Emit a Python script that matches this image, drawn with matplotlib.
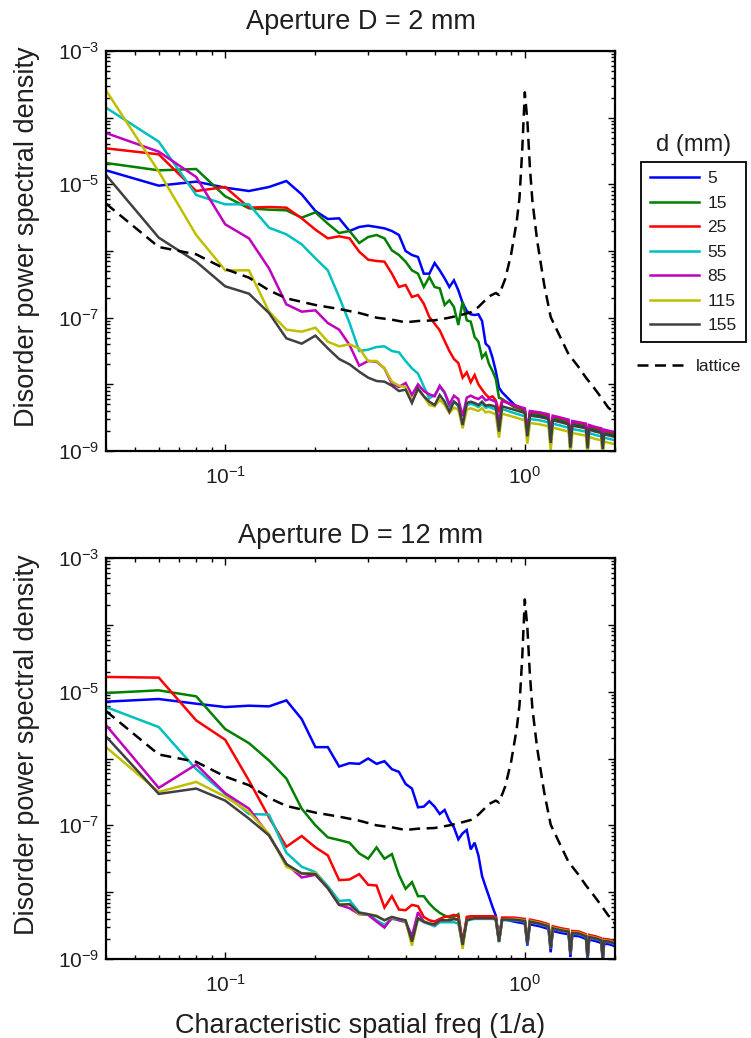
import numpy as np
import matplotlib
matplotlib.use('Agg')
import matplotlib.pyplot as plt
from matplotlib.ticker import LogLocator, NullFormatter, FixedLocator, FixedFormatter

plt.rcParams['font.family'] = ['Liberation Sans', 'DejaVu Sans']
plt.rcParams['mathtext.fontset'] = 'custom'
plt.rcParams['mathtext.rm'] = 'Liberation Sans'
plt.rcParams['mathtext.it'] = 'Liberation Sans:italic'
plt.rcParams['mathtext.bf'] = 'Liberation Sans:bold'

# ---------------- data ----------------
freq = [0.04, 0.06, 0.08, 0.10, 0.12, 0.14, 0.16, 0.18, 0.20, 0.22,
        0.24, 0.26, 0.28, 0.30, 0.32, 0.34, 0.36, 0.38, 0.40, 0.42,
        0.44, 0.46, 0.48, 0.50, 0.52, 0.54, 0.56, 0.58, 0.60, 0.62,
        0.64, 0.66, 0.68, 0.70, 0.72, 0.74, 0.76, 0.78, 0.80, 0.82, 0.84,
        0.92, 1.00, 1.02, 1.04, 1.12, 1.20, 1.22, 1.24, 1.32, 1.40, 1.42,
        1.44, 1.52, 1.60, 1.62, 1.64, 1.72, 1.80, 1.82, 1.84, 1.92, 2.00]

d_labels = ['5', '15', '25', '55', '85', '115', '155']

# log10 of disorder PSD, aperture D = 2 mm
top_d5 = [-4.79, -5.02, -4.96, -5.05, -5.10, -5.04, -4.95, -5.15, -5.40, -5.52,
          -5.51, -5.70, -5.64, -5.62, -5.64, -5.66, -5.70, -5.76, -6.00, -6.06,
          -6.09, -6.34, -6.34, -6.18, -6.29, -6.41, -6.54, -6.44, -6.59, -6.78,
          -6.90, -6.95, -6.96, -6.95, -7.05, -7.39, -7.44, -7.60, -7.80, -8.05, -8.12,
          -8.30, -8.41, -8.76, -8.45, -8.47, -8.50, -8.86, -8.52, -8.55, -8.58, -8.93,
          -8.60, -8.62, -8.64, -8.95, -8.66, -8.69, -8.71, -8.96, -8.73, -8.75, -8.77]
top_d15 = [-4.68, -4.79, -4.77, -5.18, -5.36, -5.38, -5.39, -5.50, -5.42, -5.59,
           -5.73, -5.70, -5.88, -5.79, -5.76, -5.81, -5.99, -6.06, -6.16, -6.29,
           -6.34, -6.54, -6.39, -6.54, -6.56, -6.81, -6.74, -6.84, -7.11, -6.76,
           -7.04, -7.06, -7.29, -7.36, -7.60, -7.53, -7.70, -7.80, -7.92, -8.20, -8.22,
           -8.34, -8.39, -8.74, -8.43, -8.45, -8.48, -8.84, -8.50, -8.53, -8.56, -8.91,
           -8.58, -8.60, -8.62, -8.92, -8.64, -8.67, -8.69, -8.93, -8.71, -8.73, -8.75]
top_d25 = [-4.46, -4.55, -5.10, -5.04, -5.35, -5.34, -5.35, -5.51, -5.68, -5.81,
           -5.78, -5.81, -6.01, -6.13, -6.15, -6.16, -6.34, -6.54, -6.51, -6.69,
           -6.66, -6.79, -6.99, -7.09, -7.19, -7.35, -7.50, -7.62, -7.68, -7.90,
           -7.82, -7.97, -7.86, -8.00, -8.08, -8.15, -8.20, -8.18, -8.24, -8.42, -8.24,
           -8.32, -8.37, -8.72, -8.41, -8.43, -8.46, -8.82, -8.48, -8.51, -8.54, -8.89,
           -8.56, -8.58, -8.60, -8.90, -8.62, -8.65, -8.67, -8.91, -8.69, -8.71, -8.73]
top_d55 = [-3.85, -4.36, -5.16, -5.30, -5.30, -5.65, -5.75, -5.90, -6.11, -6.29,
           -6.69, -7.08, -7.50, -7.48, -7.44, -7.43, -7.50, -7.52, -7.65, -7.76,
           -7.84, -8.03, -8.21, -8.16, -8.04, -8.13, -8.33, -8.26, -8.33, -8.63,
           -8.31, -8.29, -8.31, -8.34, -8.29, -8.35, -8.34, -8.36, -8.38, -8.74, -8.37,
           -8.43, -8.48, -8.83, -8.52, -8.54, -8.57, -8.93, -8.59, -8.62, -8.65, -9.00,
           -8.67, -8.69, -8.71, -9.01, -8.73, -8.76, -8.78, -9.02, -8.80, -8.82, -8.84]
top_d85 = [-4.23, -4.51, -4.89, -5.60, -5.81, -6.26, -6.80, -6.91, -6.89, -7.08,
           -7.18, -7.41, -7.72, -7.65, -7.66, -7.76, -7.99, -8.04, -7.98, -8.16,
           -8.00, -8.10, -8.15, -8.18, -8.02, -8.12, -8.30, -8.17, -8.22, -8.48,
           -8.20, -8.17, -8.20, -8.22, -8.18, -8.24, -8.22, -8.24, -8.26, -8.60, -8.25,
           -8.31, -8.36, -8.71, -8.40, -8.42, -8.45, -8.81, -8.47, -8.50, -8.53, -8.88,
           -8.55, -8.57, -8.59, -8.89, -8.61, -8.64, -8.66, -8.90, -8.68, -8.70, -8.72]
top_d115 = [-3.59, -4.81, -5.76, -6.29, -6.29, -6.91, -7.18, -7.21, -7.15, -7.36,
            -7.43, -7.40, -7.46, -7.65, -7.65, -7.76, -7.96, -8.02, -8.04, -8.25,
            -8.08, -8.18, -8.31, -8.33, -8.23, -8.31, -8.43, -8.35, -8.38, -8.66,
            -8.38, -8.36, -8.38, -8.40, -8.36, -8.42, -8.41, -8.43, -8.45, -8.80, -8.44,
            -8.49, -8.54, -8.89, -8.58, -8.60, -8.63, -8.99, -8.65, -8.68, -8.71, -9.06,
            -8.73, -8.75, -8.77, -9.07, -8.79, -8.82, -8.84, -9.08, -8.86, -8.88, -8.90]
top_d155 = [-4.86, -5.80, -6.16, -6.53, -6.64, -6.93, -7.31, -7.39, -7.27, -7.46,
            -7.62, -7.70, -7.81, -7.90, -7.95, -7.96, -8.02, -8.10, -8.08, -8.28,
            -8.06, -8.18, -8.26, -8.31, -8.16, -8.26, -8.41, -8.26, -8.31, -8.61,
            -8.28, -8.26, -8.28, -8.31, -8.26, -8.32, -8.31, -8.32, -8.34, -8.71, -8.33,
            -8.38, -8.43, -8.78, -8.47, -8.49, -8.52, -8.88, -8.54, -8.57, -8.60, -8.95,
            -8.62, -8.64, -8.66, -8.96, -8.68, -8.71, -8.73, -8.97, -8.75, -8.77, -8.79]

# log10 of disorder PSD, aperture D = 12 mm
bot_d5 = [-5.15, -5.11, -5.18, -5.23, -5.21, -5.22, -5.13, -5.41, -5.83, -5.83,
          -6.12, -6.07, -6.08, -6.00, -6.08, -6.04, -6.16, -6.20, -6.38, -6.45,
          -6.73, -6.72, -6.64, -6.72, -6.83, -6.77, -6.93, -7.03, -7.21, -7.12,
          -7.07, -7.36, -7.26, -7.45, -7.76, -7.92, -8.07, -8.22, -8.35, -8.70, -8.40,
          -8.44, -8.47, -8.80, -8.48, -8.51, -8.55, -8.90, -8.58, -8.61, -8.63, -8.97,
          -8.65, -8.66, -8.70, -9.02, -8.71, -8.73, -8.76, -9.04, -8.77, -8.78, -8.81]
bot_d15 = [-5.02, -4.98, -5.07, -5.56, -5.77, -6.03, -6.30, -6.75, -7.00, -7.18,
           -7.22, -7.26, -7.42, -7.50, -7.33, -7.50, -7.43, -7.74, -7.95, -7.85,
           -8.06, -8.06, -8.17, -8.25, -8.31, -8.35, -8.38, -8.37, -8.33, -8.76,
           -8.41, -8.39, -8.38, -8.38, -8.38, -8.38, -8.38, -8.38, -8.39, -8.73, -8.40,
           -8.40, -8.42, -8.76, -8.43, -8.46, -8.50, -8.83, -8.53, -8.56, -8.58, -8.91,
           -8.60, -8.61, -8.65, -8.96, -8.66, -8.68, -8.71, -8.98, -8.72, -8.73, -8.76]
bot_d25 = [-4.78, -4.79, -5.43, -5.72, -6.33, -6.88, -7.32, -7.16, -7.33, -7.45,
           -7.82, -7.81, -7.73, -7.89, -7.90, -8.23, -8.06, -8.26, -8.27, -8.19,
           -8.21, -8.37, -8.42, -8.44, -8.40, -8.37, -8.36, -8.34, -8.36, -8.75,
           -8.37, -8.36, -8.36, -8.36, -8.36, -8.36, -8.36, -8.36, -8.37, -8.71, -8.38,
           -8.38, -8.40, -8.74, -8.41, -8.44, -8.48, -8.81, -8.51, -8.54, -8.56, -8.89,
           -8.58, -8.59, -8.63, -8.94, -8.64, -8.66, -8.69, -8.96, -8.70, -8.71, -8.74]
bot_d55 = [-5.23, -5.53, -6.16, -6.53, -6.83, -6.84, -7.41, -7.62, -7.70, -7.91,
           -8.13, -8.12, -8.30, -8.33, -8.42, -8.49, -8.40, -8.42, -8.45, -8.70,
           -8.40, -8.45, -8.48, -8.51, -8.45, -8.45, -8.45, -8.45, -8.47, -8.80,
           -8.43, -8.41, -8.40, -8.40, -8.40, -8.40, -8.40, -8.40, -8.41, -8.75, -8.42,
           -8.42, -8.44, -8.78, -8.45, -8.48, -8.52, -8.85, -8.55, -8.58, -8.60, -8.93,
           -8.62, -8.63, -8.67, -8.98, -8.68, -8.70, -8.73, -9.00, -8.74, -8.75, -8.78]
bot_d85 = [-5.50, -6.44, -6.09, -6.52, -6.75, -7.15, -7.58, -7.78, -7.74, -7.94,
           -8.19, -8.24, -8.33, -8.34, -8.44, -8.53, -8.38, -8.42, -8.44, -8.66,
           -8.30, -8.44, -8.47, -8.49, -8.43, -8.42, -8.42, -8.40, -8.42, -8.79,
           -8.42, -8.40, -8.39, -8.39, -8.39, -8.39, -8.39, -8.39, -8.40, -8.74, -8.41,
           -8.41, -8.43, -8.77, -8.44, -8.47, -8.51, -8.84, -8.54, -8.57, -8.59, -8.92,
           -8.61, -8.62, -8.66, -8.97, -8.67, -8.69, -8.72, -8.99, -8.73, -8.74, -8.77]
bot_d115 = [-5.83, -6.50, -6.35, -6.57, -6.80, -7.13, -7.62, -7.72, -7.71, -7.94,
            -8.18, -8.18, -8.33, -8.33, -8.35, -8.42, -8.38, -8.40, -8.43, -8.80,
            -8.39, -8.44, -8.47, -8.48, -8.42, -8.42, -8.42, -8.40, -8.41, -8.85,
            -8.42, -8.40, -8.39, -8.39, -8.39, -8.39, -8.39, -8.39, -8.40, -8.74, -8.41,
            -8.40, -8.42, -8.76, -8.43, -8.46, -8.50, -8.83, -8.53, -8.56, -8.58, -8.91,
            -8.60, -8.61, -8.65, -8.96, -8.66, -8.68, -8.71, -8.98, -8.72, -8.73, -8.76]
bot_d155 = [-5.67, -6.53, -6.45, -6.63, -6.90, -7.15, -7.58, -7.72, -7.73, -7.94,
            -8.19, -8.18, -8.31, -8.33, -8.36, -8.42, -8.37, -8.40, -8.42, -8.74,
            -8.39, -8.44, -8.47, -8.48, -8.42, -8.42, -8.42, -8.40, -8.41, -8.79,
            -8.42, -8.40, -8.39, -8.39, -8.39, -8.39, -8.39, -8.39, -8.40, -8.74, -8.41,
            -8.41, -8.43, -8.77, -8.44, -8.47, -8.51, -8.84, -8.54, -8.57, -8.59, -8.92,
            -8.61, -8.62, -8.66, -8.97, -8.67, -8.69, -8.72, -8.99, -8.73, -8.74, -8.77]

# lattice reference curve (same in both panels)
lattice_freq = [0.04, 0.06, 0.08, 0.10, 0.12, 0.14, 0.16, 0.20, 0.24, 0.28,
                0.32, 0.36, 0.40, 0.44, 0.50, 0.56, 0.60, 0.66, 0.70, 0.76,
                0.80, 0.82, 0.86, 0.90, 0.94, 0.96, 0.98, 1.00, 1.02, 1.04,
                1.06, 1.10, 1.16, 1.22, 1.30, 1.40, 1.50, 1.60, 1.70, 1.80,
                1.90, 1.96, 2.00]
lattice_log = [-5.29, -5.94, -6.05, -6.27, -6.40, -6.59, -6.71, -6.81, -6.87, -6.93,
               -7.00, -7.03, -7.07, -7.05, -7.04, -7.00, -6.97, -6.92, -6.84, -6.68,
               -6.63, -6.66, -6.42, -6.05, -5.55, -5.20, -4.50, -3.62, -4.05, -4.75,
               -5.25, -5.85, -6.50, -6.99, -7.25, -7.55, -7.72, -7.90, -8.05, -8.20,
               -8.35, -8.40, -8.48]

titles = ['Aperture D = 2 mm', 'Aperture D = 12 mm']

# ---------------- styling ----------------
colors = [(0, 0, 1), (0, 0.5, 0), (1, 0, 0), (0, 0.75, 0.75),
          (0.75, 0, 0.75), (0.75, 0.75, 0), (0.25, 0.25, 0.25)]
LW = 1.8
TXT = '#1f1f1f'

top_series = [top_d5, top_d15, top_d25, top_d55, top_d85, top_d115, top_d155]
bot_series = [bot_d5, bot_d15, bot_d25, bot_d55, bot_d85, bot_d115, bot_d155]

fig = plt.figure(figsize=(7.51, 10.38), dpi=100)
W, H = 751.0, 1038.0
ax_top = fig.add_axes([106 / W, 1 - 451 / H, 509 / W, 400 / H])
ax_bot = fig.add_axes([106 / W, 1 - 959 / H, 509 / W, 401 / H])

x = np.array(freq)
handles = []
lattice_handle = None
for ax, series, title, tpad in [(ax_top, top_series, titles[0], 15.5),
                                (ax_bot, bot_series, titles[1], 11)]:
    hs = []
    for vals, c, lab in zip(series, colors, d_labels):
        h, = ax.plot(x, 10.0 ** np.array(vals), color=c, lw=LW, label=lab,
                     solid_joinstyle='miter')
        hs.append(h)
    lh, = ax.plot(np.array(lattice_freq), 10.0 ** np.array(lattice_log), color='k',
                  lw=LW, linestyle=(0, (4.4, 2.6)), label='lattice')
    if not handles:
        handles = hs
        lattice_handle = lh
    ax.set_xscale('log')
    ax.set_yscale('log')
    ax.set_xlim(0.04, 2.0)
    ax.set_ylim(1e-9, 1e-3)
    ax.set_title(title, fontsize=19.5, color=TXT, pad=tpad)
    ax.set_ylabel('Disorder power spectral density', fontsize=19.5, color=TXT)
    ax.yaxis.set_label_coords(-0.13, 0.535)

    ax.xaxis.set_major_locator(FixedLocator([0.1, 1.0]))
    ax.xaxis.set_major_formatter(FixedFormatter([r'$\mathdefault{10^{-1}}$', r'$\mathdefault{10^{0}}$']))
    ax.xaxis.set_minor_locator(LogLocator(base=10, subs=np.arange(2, 10), numticks=20))
    ax.xaxis.set_minor_formatter(NullFormatter())

    yt = [1e-9, 1e-8, 1e-7, 1e-6, 1e-5, 1e-4, 1e-3]
    ax.yaxis.set_major_locator(FixedLocator(yt))
    ax.yaxis.set_major_formatter(FixedFormatter([r'$\mathdefault{10^{-9}}$', '',
                                                 r'$\mathdefault{10^{-7}}$', '',
                                                 r'$\mathdefault{10^{-5}}$', '',
                                                 r'$\mathdefault{10^{-3}}$']))
    ax.yaxis.set_minor_locator(LogLocator(base=10, subs=np.arange(2, 10), numticks=20))
    ax.yaxis.set_minor_formatter(NullFormatter())

    ax.tick_params(which='both', direction='in', top=True, right=True,
                   labelsize=15, colors='k', labelcolor=TXT, width=1.0)
    ax.tick_params(which='major', length=5, pad=11)
    ax.tick_params(which='minor', length=2.6)
    ax.tick_params(axis='y', which='major', pad=5)
    for s in ax.spines.values():
        s.set_linewidth(1.6)

ax_bot.set_xlabel('Characteristic spatial freq (1/a)', fontsize=19.5, color=TXT, labelpad=12)

# legend with box
leg = fig.legend(handles, d_labels, loc='upper left',
                 bbox_to_anchor=(641 / W, 1 - 162 / H), bbox_transform=fig.transFigure,
                 borderaxespad=0, fontsize=12.5, frameon=True, fancybox=False,
                 edgecolor='k', framealpha=1, handlelength=2.8, handletextpad=0.5,
                 labelspacing=0.54, borderpad=0.52, labelcolor=TXT)
leg.get_frame().set_linewidth(1.3)
fig.text(694 / W, 1 - 151 / H, 'd (mm)', ha='center', va='baseline',
         fontsize=17, color=TXT)

leg2 = fig.legend([lattice_handle], ['lattice'], loc='upper left',
                  bbox_to_anchor=(637 / W, 1 - 359 / H), bbox_transform=fig.transFigure,
                  borderaxespad=0, fontsize=12.5, frameon=False, handlelength=3.0,
                  handletextpad=0.4, borderpad=0, labelcolor=TXT)

fig.savefig('out.png', dpi=100)
